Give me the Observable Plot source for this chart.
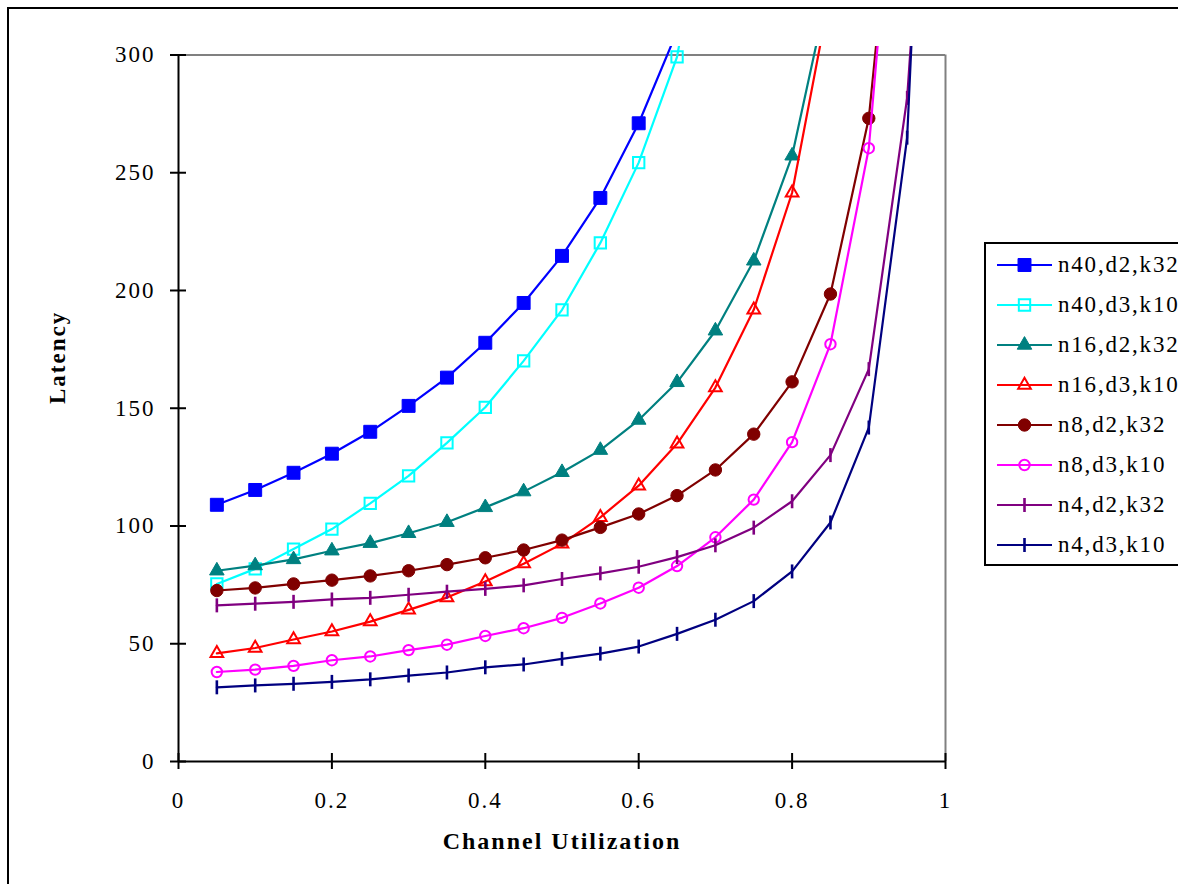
<!DOCTYPE html>
<html>
<head>
<meta charset="utf-8">
<script src="https://cdn.jsdelivr.net/npm/d3@7"></script>
<script src="https://cdn.jsdelivr.net/npm/@observablehq/plot@0.6"></script>
<style>
  html, body { margin: 0; padding: 0; background: #fff; overflow: hidden; }
  #wrap { position: relative; width: 1178px; height: 884px; overflow: hidden; background: #fff;
          font-family: "Liberation Serif", "Times New Roman", serif; color: #000; }
  #chart { position: absolute; left: 0; top: 0; }
  #chart svg text { letter-spacing: 2px; }
  #border { position: absolute; left: 7px; top: 7px; width: 1300px; height: 1000px;
            border: 2px solid #000; pointer-events: none; z-index: 5; }
  #legend { position: absolute; left: 984px; top: 242px; width: 260px; height: 319px;
            border: 2px solid #000; background: #fff; z-index: 4; padding-top: 1px; box-sizing: content-box; }
  .row { height: 40px; display: flex; align-items: center; }
  .row svg { flex: none; display: block; }
  .row span { font-size: 23px; letter-spacing: 1.8px; margin-left: 1px; white-space: nowrap; line-height: 40px; }
</style>
</head>
<body>
<div id="wrap">
  <div id="chart"></div>
  <div id="legend"></div>
  <div id="border"></div>
</div>
<script>
// ---- data ----
const xs = [0.05, 0.1, 0.15, 0.2, 0.25, 0.3, 0.35, 0.4, 0.45, 0.5, 0.55, 0.6, 0.65, 0.7, 0.75, 0.8, 0.85, 0.9, 0.95, 1.0];
const seriesNames = ["n40,d2,k32", "n40,d3,k10", "n16,d2,k32", "n16,d3,k10", "n8,d2,k32", "n8,d3,k10", "n4,d2,k32", "n4,d3,k10"];
const n40_d2_k32 = [109, 115.3, 122.6, 130.7, 140, 151, 163, 177.8, 194.7, 214.7, 239.3, 271, 310];
const n40_d3_k10 = [75.4, 81.8, 90.2, 98.7, 109.6, 121.3, 135.3, 150.4, 170.1, 191.8, 220.2, 254.3, 299.2, 390];
const n16_d2_k32 = [81, 83.2, 85.8, 89.5, 92.7, 96.9, 101.6, 107.9, 114.6, 122.8, 132.2, 145, 161, 182.9, 212.6, 257.2, 332];
const n16_d3_k10 = [45.9, 48.2, 51.8, 55.2, 59.4, 64.4, 69.6, 76.4, 84, 92.4, 103.7, 117.1, 134.9, 158.8, 191.8, 241.5, 327];
const n8_d2_k32 = [72.6, 73.7, 75.4, 77, 78.8, 81, 83.6, 86.5, 89.8, 94, 99.4, 105.1, 112.9, 123.8, 139, 161.2, 198.5, 273.1, 436];
const n8_d3_k10 = [38, 39, 40.6, 43, 44.6, 47.3, 49.6, 53.3, 56.6, 61, 67.1, 73.8, 83, 95.2, 111.2, 135.6, 177.2, 260.4, 450];
const n4_d2_k32 = [66.3, 67, 67.8, 68.8, 69.5, 70.8, 72.1, 73.3, 74.8, 77.5, 79.9, 82.7, 86.8, 91.8, 99.3, 110.5, 130.1, 166.6, 281.8, 520];
const n4_d3_k10 = [31.5, 32.3, 33, 33.8, 34.9, 36.5, 37.8, 40, 41.2, 43.6, 45.8, 48.8, 54.2, 60.2, 68.1, 80.7, 101.5, 141.8, 264.9, 620];
const xTicks = [0, 0.2, 0.4, 0.6, 0.8, 1];
const yTicks = [0, 50, 100, 150, 200, 250, 300];
const xTitle = "Channel Utilization";
const yTitle = "Latency";

// ---- styles ----
const vbar = { draw(ctx, size) { const h = Math.sqrt(size / Math.PI); ctx.moveTo(0, -h); ctx.lineTo(0, h); } };
const seriesValues = [n40_d2_k32, n40_d3_k10, n16_d2_k32, n16_d3_k10, n8_d2_k32, n8_d3_k10, n4_d2_k32, n4_d3_k10];
const styles = [
  { color: "#0000FF", symbol: "square",   d3sym: d3.symbolSquare,   r: 7.3, filled: true,  sw: 1 },
  { color: "#00FFFF", symbol: "square",   d3sym: d3.symbolSquare,   r: 6.4, filled: false, sw: 2 },
  { color: "#008080", symbol: "triangle", d3sym: d3.symbolTriangle, r: 5.4, filled: true,  sw: 1 },
  { color: "#FF0000", symbol: "triangle", d3sym: d3.symbolTriangle, r: 4.7, filled: false, sw: 2 },
  { color: "#800000", symbol: "circle",   d3sym: d3.symbolCircle,   r: 6.2, filled: true,  sw: 1 },
  { color: "#FF00FF", symbol: "circle",   d3sym: d3.symbolCircle,   r: 5.2, filled: false, sw: 2 },
  { color: "#800080", symbol: vbar,       d3sym: vbar,              r: 7,   filled: false, sw: 2.6 },
  { color: "#000080", symbol: vbar,       d3sym: vbar,              r: 7,   filled: false, sw: 2.6 }
];

const yMax = d3.max(yTicks);
const yClipTop = yMax + 3.6;

const marks = [
  Plot.ruleY([yMax], { stroke: "#808080", strokeWidth: 2 }),
  Plot.ruleX([d3.max(xTicks)], { y1: 0, y2: yMax, stroke: "#808080", strokeWidth: 2 })
];

seriesNames.forEach((name, si) => {
  const st = styles[si];
  const rows = seriesValues[si].map((v, i) => ({ x: xs[i], y: v, s: name }));
  marks.push(Plot.line(rows, { x: "x", y: "y", stroke: st.color, strokeWidth: 2.2, clip: true }));
  marks.push(Plot.dot(rows, {
    x: "x", y: "y", symbol: st.symbol, r: st.r,
    fill: st.filled ? st.color : "none",
    stroke: st.color, strokeWidth: st.sw, clip: true
  }));
});

marks.push(
  Plot.ruleX([0], { y1: 0, y2: yMax, stroke: "#000", strokeWidth: 2 }),
  Plot.ruleY([0], { x1: 0, x2: d3.max(xTicks), stroke: "#000", strokeWidth: 2 }),
  Plot.axisY(yTicks, { tickSize: 16, dx: 8, tickFormat: () => "", label: null, strokeWidth: 2 }),
  Plot.axisY(yTicks, { tickSize: 0, tickPadding: 23, label: null }),
  Plot.axisX(xTicks, { tickSize: 16, dy: -8, tickFormat: () => "", label: null, strokeWidth: 2 }),
  Plot.axisX(xTicks, { tickSize: 0, tickPadding: 30, label: null, tickFormat: d => String(d) }),
  Plot.text([yTitle], { text: d => d, frameAnchor: "left", dx: -121, rotate: -90, fontWeight: "bold", fontSize: 23 }),
  Plot.text([xTitle], { text: d => d, frameAnchor: "bottom", dy: 87, fontWeight: "bold", fontSize: 24 })
);

const chart = Plot.plot({
  width: 1178,
  height: 884,
  marginLeft: 178,
  marginRight: 233,
  marginTop: 46,
  marginBottom: 123,
  x: { domain: [0, d3.max(xTicks)] },
  y: { domain: [0, yClipTop] },
  style: { fontFamily: "'Liberation Serif', 'Times New Roman', serif", fontSize: "23px", color: "#000", background: "transparent" },
  marks
});
document.getElementById("chart").appendChild(chart);

// ---- legend ----
const legend = document.getElementById("legend");
seriesNames.forEach((name, si) => {
  const st = styles[si];
  const row = document.createElement("div");
  row.className = "row";
  const svg = d3.create("svg").attr("width", 71).attr("height", 40);
  svg.append("line").attr("x1", 11).attr("x2", 66).attr("y1", 20).attr("y2", 20)
    .attr("stroke", st.color).attr("stroke-width", 2.2);
  svg.append("path")
    .attr("d", d3.symbol(st.d3sym, Math.PI * st.r * st.r)())
    .attr("transform", "translate(38.5,20)")
    .attr("fill", st.filled ? st.color : "none")
    .attr("stroke", st.color)
    .attr("stroke-width", st.sw);
  row.appendChild(svg.node());
  const span = document.createElement("span");
  span.textContent = name;
  row.appendChild(span);
  legend.appendChild(row);
});
</script>
</body>
</html>
